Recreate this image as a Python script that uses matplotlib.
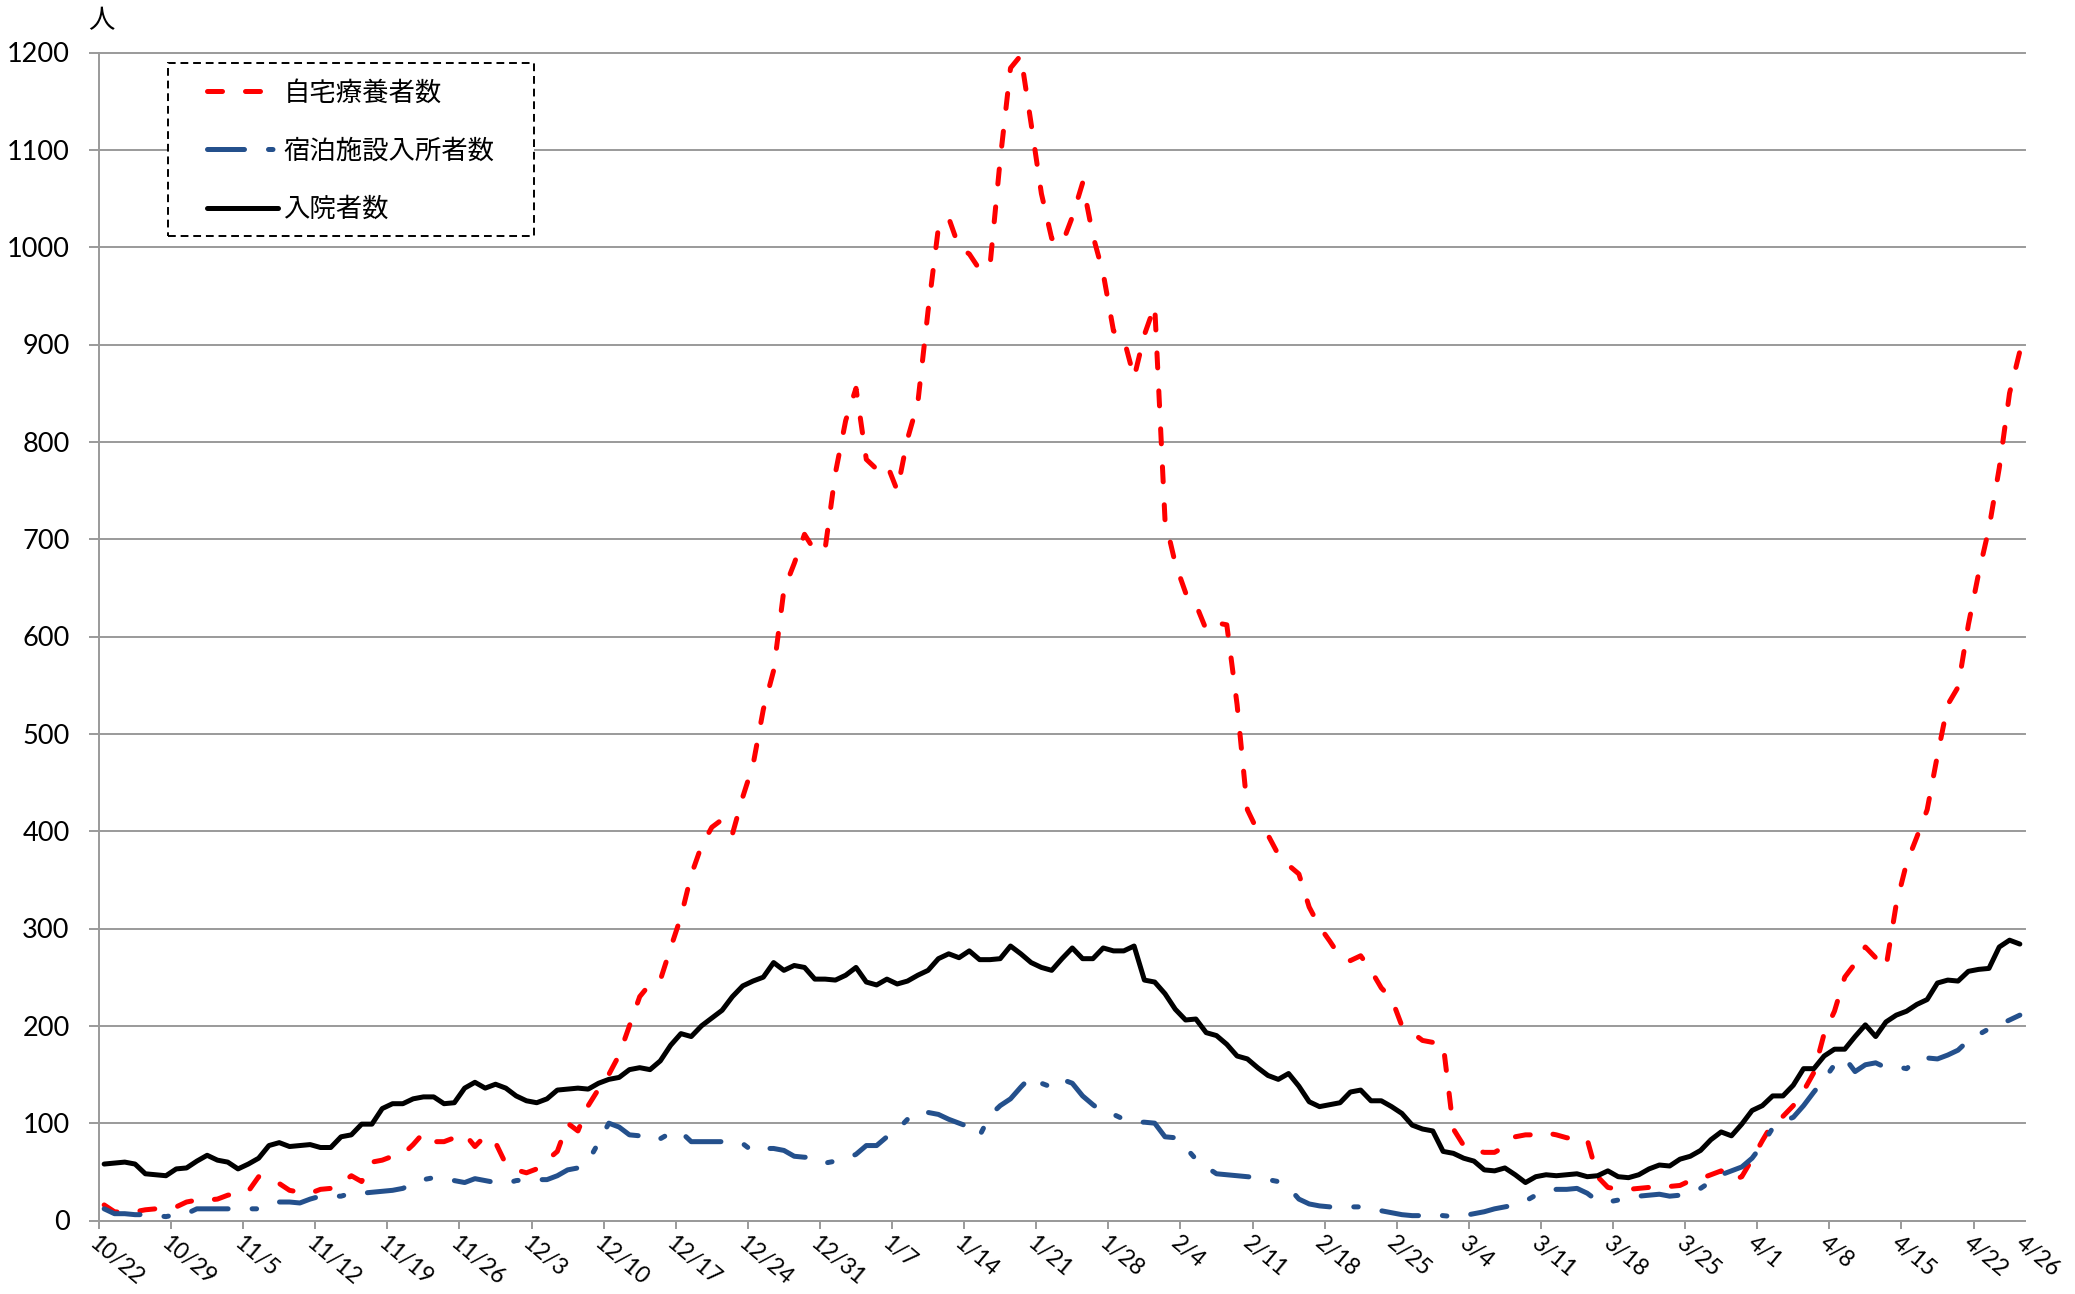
import numpy as np
import matplotlib
matplotlib.use("Agg")
import matplotlib.pyplot as plt
import matplotlib.transforms as mtransforms
from matplotlib.patches import Rectangle

# ---------------- data ----------------
tick_labels = ["10/22", "10/29", "11/5", "11/12", "11/19", "11/26", "12/3",
               "12/10", "12/17", "12/24", "12/31", "1/7", "1/14", "1/21",
               "1/28", "2/4", "2/11", "2/18", "2/25", "3/4", "3/11", "3/18",
               "3/25", "4/1", "4/8", "4/15", "4/22", "4/26"]

series_names = ["自宅療養者数", "宿泊施設入所者数", "入院者数"]

# 自宅療養者数 (daily, 10/22 - 4/26)
home_care = [
    16, 9, 8, 9, 11, 12, 13, 14, 19, 21,
    21, 22, 26, 28, 30, 45, 44, 38, 31, 29,
    28, 32, 33, 38, 46, 40, 60, 62, 66, 68,
    78, 90, 81, 81, 85, 89, 76, 87, 80, 58,
    52, 49, 53, 62, 71, 100, 92, 118, 135, 150,
    170, 200, 230, 243, 247, 280, 312, 355, 385, 404,
    412, 397, 435, 468, 525, 565, 648, 675, 705, 688,
    690, 768, 822, 855, 782, 772, 777, 750, 803, 840,
    935, 1020, 1030, 1000, 993, 977, 980, 1090, 1184, 1197,
    1127, 1055, 1009, 1003, 1031, 1066, 1012, 973, 914, 906,
    866, 910, 940, 720, 675, 645, 633, 607, 614, 612,
    530, 422, 400, 396, 376, 365, 356, 322, 302, 287,
    271, 267, 272, 257, 239, 228, 200, 193, 185, 183,
    182, 94, 77, 72, 70, 70, 76, 86, 88, 88,
    90, 88, 85, 84, 83, 45, 34, 32, 32, 33,
    34, 34, 35, 36, 41, 43, 47, 51, 41, 45,
    63, 82, 100, 107, 118, 133, 152, 192, 215, 250,
    264, 281, 270, 260, 325, 367, 394, 422, 478, 530,
    548, 612, 665, 711, 773, 850, 893,
]

# 宿泊施設入所者数
hotel = [
    12, 7, 7, 6, 6, 5, 4, 6, 7, 12,
    12, 12, 12, 12, 12, 12, 15, 19, 19, 18,
    22, 25, 25, 25, 28, 28, 29, 30, 31, 33,
    38, 42, 44, 42, 41, 39, 43, 41, 39, 38,
    41, 42, 42, 42, 46, 52, 54, 61, 80, 100,
    96, 88, 87, 82, 84, 90, 91, 81, 81, 81,
    81, 78, 79, 71, 74, 74, 72, 66, 65, 65,
    59, 61, 63, 68, 77, 77, 86, 93, 104, 112,
    111, 109, 104, 100, 96, 87, 108, 118, 125, 137,
    148, 141, 137, 145, 141, 128, 119, 111, 109, 104,
    101, 101, 100, 86, 85, 75, 63, 55, 48, 47,
    46, 45, 44, 42, 40, 34, 22, 17, 15, 14,
    14, 14, 14, 12, 10, 8, 6, 5, 5, 6,
    5, 4, 5, 7, 9, 12, 14, 16, 20, 26,
    30, 32, 32, 33, 28, 20, 19, 21, 23, 25,
    26, 27, 25, 26, 29, 33, 40, 47, 51, 55,
    64, 78, 95, 102, 106, 118, 132, 145, 160, 167,
    153, 160, 162, 157, 158, 156, 165, 167, 166, 170,
    175, 185, 191, 197, 201, 206, 211,
]

# 入院者数
hospital = [
    58, 59, 60, 58, 48, 47, 46, 53, 54, 61,
    67, 62, 60, 53, 58, 64, 77, 80, 76, 77,
    78, 75, 75, 86, 88, 99, 99, 115, 120, 120,
    125, 127, 127, 120, 121, 136, 142, 136, 140, 136,
    128, 123, 121, 125, 134, 135, 136, 135, 141, 145,
    147, 155, 157, 155, 164, 180, 192, 189, 200, 208,
    216, 230, 241, 246, 250, 265, 257, 262, 260, 248,
    248, 247, 252, 260, 245, 242, 248, 243, 246, 252,
    257, 269, 274, 270, 277, 268, 268, 269, 282, 274,
    265, 260, 257, 269, 280, 269, 269, 280, 277, 277,
    282, 247, 245, 233, 217, 206, 207, 193, 190, 181,
    169, 166, 157, 149, 145, 151, 138, 122, 117, 119,
    121, 132, 134, 123, 123, 117, 110, 98, 94, 92,
    71, 69, 64, 61, 52, 51, 54, 47, 39, 45,
    47, 46, 47, 48, 45, 46, 51, 45, 44, 47,
    53, 57, 56, 63, 66, 72, 83, 91, 87, 99,
    113, 118, 128, 128, 139, 156, 156, 169, 176, 176,
    189, 201, 189, 204, 211, 215, 222, 227, 244, 247,
    246, 256, 258, 259, 281, 288, 284,
]

# ---------------- figure ----------------
plt.rcParams["font.family"] = ["Lato", "Noto Sans CJK JP", "DejaVu Sans"]

W, H = 2075, 1294
fig = plt.figure(figsize=(W / 100, H / 100), dpi=100)
ax = fig.add_axes([99 / W, 1 - 1220.5 / H, (2025 - 99) / W, (1220.5 - 52.5) / H])

n = len(hospital)
x = np.arange(n) + 0.5
lw = 3.6
grid_c = "#9a9a9a"

red_line, = ax.plot(x, home_care, color="#FF0000", lw=lw, dashes=(3.0, 4.6),
                    dash_capstyle="round", dash_joinstyle="round", zorder=2)
blue_line, = ax.plot(x, hotel, color="#24508C", lw=lw, dashes=(7.4, 4.8, 0.9, 4.8),
                     dash_capstyle="round", dash_joinstyle="round", zorder=3)
black_line, = ax.plot(x, hospital, color="black", lw=lw,
                      solid_capstyle="round", solid_joinstyle="round", zorder=4)

ax.set_xlim(0, n)
ax.set_ylim(0, 1200)
ax.set_yticks(range(0, 1201, 100))
tick_pos = list(range(0, 183, 7)) + [n]
ax.set_xticks(tick_pos)
ax.set_xticklabels(tick_labels, rotation=-40, ha="left", va="top",
                   rotation_mode="anchor", fontsize=16.5)
shift = mtransforms.ScaledTranslation(0.24, 0, fig.dpi_scale_trans)
for lab in ax.get_xticklabels():
    lab.set_transform(lab.get_transform() + shift)
ax.xaxis.get_major_ticks()[-1].tick1line.set_visible(False)

ax.yaxis.grid(True, color=grid_c, lw=1.4)
for gl in ax.get_ygridlines():
    gl.set_clip_on(False)
ax.set_axisbelow(True)
for s in ["top", "right"]:
    ax.spines[s].set_visible(False)
for s in ["left", "bottom"]:
    ax.spines[s].set_color(grid_c)
    ax.spines[s].set_linewidth(1.4)
ax.tick_params(axis="y", length=7.2, width=1.4, color=grid_c, pad=14, labelsize=19.5)
ax.tick_params(axis="x", length=6, width=1.4, color=grid_c, pad=2.5)

# unit label
fig.text(101.5 / W, 1 - 21 / H, "人", ha="center", va="center", fontsize=19,
         family=["Noto Sans CJK JP"])

# legend frame (dashed) and legend
frame = Rectangle((168.3 / W, 1 - 236 / H), (534 - 168.3) / W, (236 - 63.3) / H,
                  transform=fig.transFigure, facecolor="white", edgecolor="black",
                  lw=1.4, linestyle=(0, (4, 2.5)), zorder=4.5)
frame.set_clip_on(False)
ax.add_artist(frame)

leg = ax.legend([red_line, blue_line, black_line], series_names,
                loc="upper left", bbox_to_anchor=(206.7 / W, 1 - 79.5 / H),
                bbox_transform=fig.transFigure, frameon=False, borderpad=0,
                borderaxespad=0, handlelength=2.69, handletextpad=0.22,
                labelspacing=1.18, prop={"family": ["Noto Sans CJK JP"], "size": 19})
leg.set_zorder(5)

fig.savefig("out.png", dpi=100)
